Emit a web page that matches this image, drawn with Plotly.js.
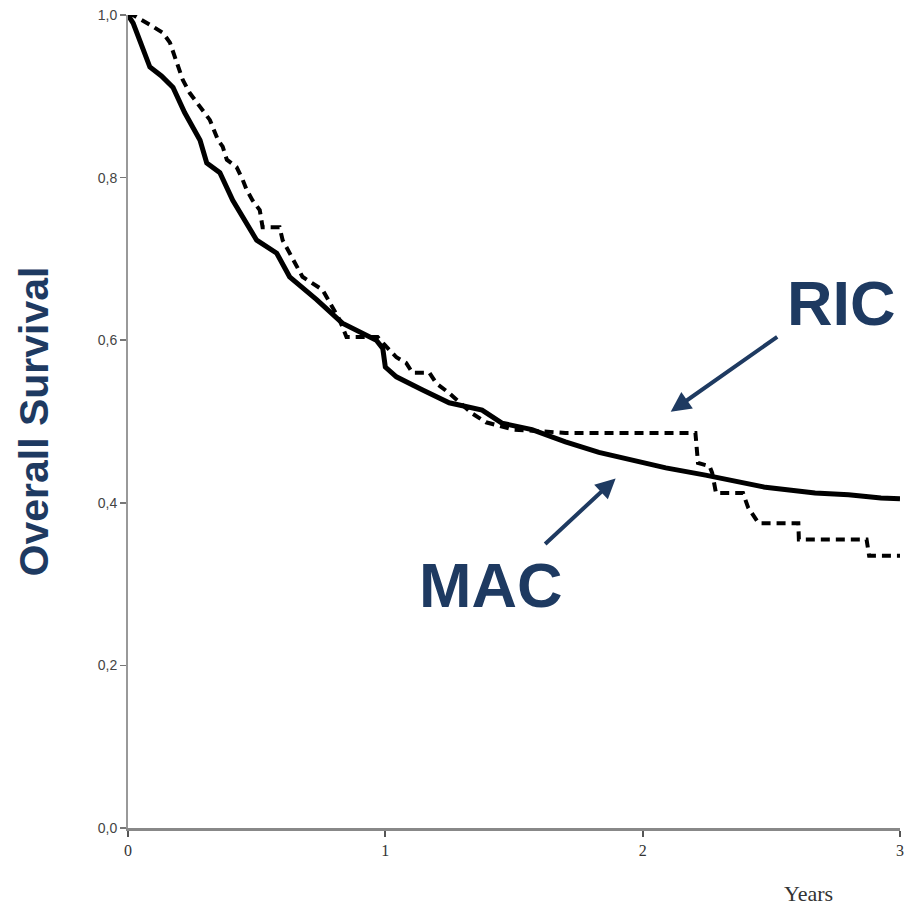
<!DOCTYPE html>
<html><head><meta charset="utf-8">
<script src="https://cdn.plot.ly/plotly-3.0.1.min.js"></script>
<style>body{margin:0;background:#fff}#c{width:910px;height:907px}</style>
</head><body><div id="c"></div>
<script>
// MAC (solid) survival estimates
const macYears = [0,0.02,0.05,0.085,0.13,0.175,0.22,0.28,0.306,0.357,0.407,0.473,0.5,0.578,0.628,0.733,0.833,0.965,0.99,1.0,1.043,1.143,1.248,1.376,1.453,1.57,1.70,1.83,1.957,2.09,2.244,2.345,2.477,2.67,2.8,2.926,3.0];
const macSurv  = [1.0,0.99,0.965,0.936,0.925,0.911,0.88,0.846,0.818,0.806,0.772,0.739,0.723,0.707,0.678,0.650,0.621,0.600,0.590,0.567,0.555,0.539,0.523,0.514,0.498,0.490,0.475,0.462,0.453,0.443,0.434,0.428,0.419,0.412,0.410,0.406,0.405];
// RIC (dashed)
const ricYears = [0,0.02,0.085,0.136,0.163,0.19,0.213,0.24,0.28,0.318,0.35,0.368,0.384,0.422,0.446,0.461,0.484,0.512,0.523,0.589,0.601,0.628,0.655,0.678,0.756,0.783,0.822,0.849,0.97,1.004,1.043,1.081,1.105,1.171,1.198,1.248,1.337,1.391,1.5,1.70,2.205,2.215,2.26,2.27,2.285,2.39,2.41,2.45,2.605,2.607,2.87,2.88,3.0];
const ricSurv  = [1.0,1.0,0.988,0.978,0.966,0.941,0.920,0.904,0.887,0.871,0.846,0.838,0.822,0.813,0.797,0.785,0.772,0.760,0.739,0.739,0.723,0.707,0.690,0.678,0.662,0.646,0.625,0.604,0.604,0.592,0.579,0.572,0.560,0.560,0.547,0.535,0.510,0.499,0.490,0.486,0.486,0.449,0.445,0.437,0.412,0.412,0.394,0.375,0.375,0.355,0.355,0.335,0.335];
const yTickVals = [0,0.2,0.4,0.6,0.8,1.0];
const yTickText = ["0,0","0,2","0,4","0,6","0,8","1,0"];
const xTickVals = [0,1,2,3];
const xTickText = ["0","1","2","3"];
const navy = "#1e3a61";

const traces = [
  {x: ricYears, y: ricSurv, mode: "lines", line: {color: "#000", width: 4, dash: "9px,6px"}, name: "RIC", showlegend: false},
  {x: macYears, y: macSurv, mode: "lines", line: {color: "#000", width: 5}, name: "MAC", showlegend: false}
];
const layout = {
  width: 910, height: 907,
  margin: {l: 128, r: 10, t: 15, b: 79},
  paper_bgcolor: "#fff", plot_bgcolor: "#fff",
  xaxis: {range: [0, 3], tickvals: xTickVals, ticktext: xTickText, showgrid: false, zeroline: false,
    showline: true, linecolor: "#888", linewidth: 3, ticks: "outside", ticklen: 6, tickcolor: "#555", tickwidth: 2,
    tickfont: {family: "Liberation Serif, serif", size: 16, color: "#333"}},
  yaxis: {range: [0, 1], tickvals: yTickVals, ticktext: yTickText, showgrid: false, zeroline: false,
    showline: true, linecolor: "#999", linewidth: 2, ticks: "outside", ticklen: 6, tickcolor: "#777", tickwidth: 1.5,
    tickfont: {family: "Liberation Sans, Arial, sans-serif", size: 14, color: "#444"},
    title: {text: "<b>Overall Survival</b>", font: {family: "Liberation Sans, Arial, sans-serif", size: 41, color: navy}, standoff: 36}},
  annotations: [
    {xref: "paper", yref: "paper", x: 0.882, y: -0.08, xanchor: "center", yanchor: "middle", showarrow: false,
     text: "Years", font: {family: "Liberation Serif, serif", size: 22, color: "#333"}},
    {x: 2.771, y: 0.646, xref: "x", yref: "y", showarrow: false, text: "<b>RIC</b>",
     font: {family: "Liberation Sans, Arial, sans-serif", size: 63, color: navy}},
    {x: 1.41, y: 0.299, xref: "x", yref: "y", showarrow: false, text: "<b>MAC</b>",
     font: {family: "Liberation Sans, Arial, sans-serif", size: 63, color: navy}},
    {x: 2.109, y: 0.512, xref: "x", yref: "y", text: "", showarrow: true, ax: 108, ay: -76,
     arrowhead: 2, arrowsize: 1, arrowwidth: 4, arrowcolor: navy},
    {x: 1.895, y: 0.430, xref: "x", yref: "y", text: "", showarrow: true, ax: -72, ay: 67,
     arrowhead: 2, arrowsize: 1, arrowwidth: 4, arrowcolor: navy}
  ]
};
Plotly.newPlot("c", traces, layout, {displayModeBar: false, staticPlot: true});
</script></body></html>
